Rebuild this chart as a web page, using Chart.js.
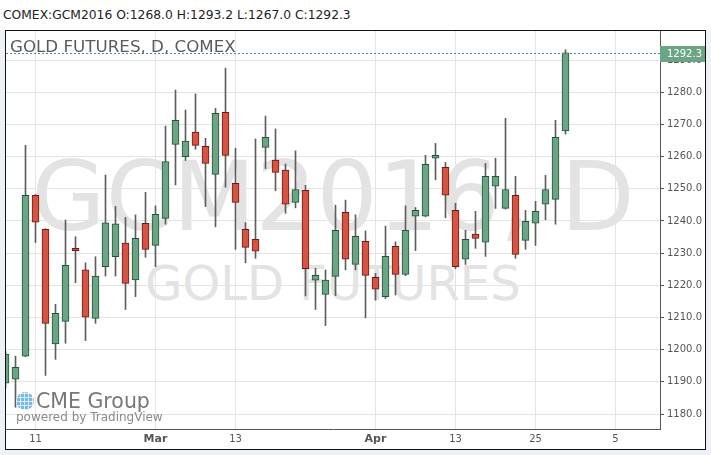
<!DOCTYPE html>
<html>
<head>
<meta charset="utf-8">
<script src="https://cdn.jsdelivr.net/npm/chart.js@4.4.1/dist/chart.umd.min.js"></script>
<style>
  html, body { margin: 0; padding: 0; }
  body { width: 711px; height: 455px; background: #eef2f7; position: relative; overflow: hidden; font-family: 'DejaVu Sans', sans-serif; }
  #head { position: absolute; left: 0; top: 0; width: 711px; height: 30px; background: #fff; }
  #quote { position: absolute; left: 3px; top: 9px; font-size: 12.3px; line-height: 1; color: #222; white-space: nowrap; }
  #frame { position: absolute; left: 5px; top: 30px; width: 701px; height: 420px; box-sizing: border-box; border: 1px solid #111; background: #fff; overflow: hidden; }
  .wm { position: absolute; left: 0; width: 654px; text-align: center; line-height: 1; color: #e3e3e3; white-space: nowrap; }
  #wm1 { top: 118px; font-size: 96px; }
  #wm2 { top: 228px; font-size: 48px; }
  #title { position: absolute; left: 4px; top: 7px; font-size: 16.7px; line-height: 1; color: #5a5a5a; white-space: nowrap; }
  #globe { position: absolute; left: 10px; top: 361px; width: 18px; height: 18px; border-radius: 50%;
           background: repeating-linear-gradient(90deg, rgba(255,255,255,0.7) 0 1px, transparent 1px 4px),
                       repeating-linear-gradient(0deg, rgba(255,255,255,0.7) 0 1px, transparent 1px 4px), #78b9e6; }
  #cme { position: absolute; left: 30px; top: 360px; font-size: 20.5px; line-height: 1; color: #777; white-space: nowrap; }
  #pwr { position: absolute; left: 10px; top: 380px; font-size: 12px; line-height: 1; color: #8a8a8a; white-space: nowrap; }
  canvas { position: absolute; left: 0; top: 0; }
</style>
</head>
<body>
<div id="head"><span id="quote"></span></div>
<div id="frame">
  <div class="wm" id="wm1">GCM2016, D</div>
  <div class="wm" id="wm2">GOLD FUTURES</div>
  <canvas id="chart" width="699" height="418"></canvas>
  <div id="title">GOLD FUTURES, D, COMEX</div>
  <div id="globe"></div>
  <div id="cme">CME Group</div>
  <div id="pwr">powered by TradingView</div>
</div>
<script>
// daily candles, oldest first
var opens = [1189.6, 1190.8, 1198.0, 1248.0, 1237.4, 1201.8, 1208.8, 1231.5, 1224.8, 1209.7,
             1225.8, 1228.9, 1233.1, 1221.7, 1239.3, 1232.4, 1240.8, 1263.8, 1260.0, 1267.6,
             1263.2, 1254.5, 1273.8, 1251.7, 1237.4, 1234.3, 1262.9, 1258.9, 1255.8, 1245.8,
             1249.5, 1221.6, 1217.2, 1222.8, 1242.7, 1226.5, 1233.7, 1222.5, 1216.5, 1232.1,
             1223.4, 1241.5, 1241.5, 1259.5, 1256.7, 1243.3, 1228.1, 1235.9, 1233.4, 1250.8,
             1243.9, 1248.0, 1234.0, 1239.3, 1245.2, 1246.7, 1268.0];
var highs = [1199.5, 1198.0, 1263.5, 1248.2, 1237.6, 1214.1, 1240.3, 1235.1, 1227.0, 1228.9,
             1254.3, 1244.5, 1241.1, 1241.9, 1248.9, 1244.7, 1269.5, 1280.7, 1274.5, 1279.5,
             1265.7, 1275.0, 1287.5, 1262.6, 1239.5, 1265.5, 1272.6, 1268.6, 1257.7, 1261.8,
             1251.1, 1225.3, 1224.8, 1244.9, 1246.5, 1241.9, 1236.9, 1223.7, 1238.4, 1233.5,
             1244.7, 1244.2, 1260.4, 1264.1, 1258.2, 1245.5, 1237.1, 1243.0, 1257.9, 1259.5,
             1271.9, 1253.9, 1243.3, 1246.1, 1254.2, 1271.3, 1293.2];
var lows = [1188.0, 1182.1, 1197.8, 1233.3, 1192.0, 1197.0, 1202.0, 1220.8, 1202.8, 1208.2,
            1222.9, 1222.9, 1212.5, 1216.5, 1228.7, 1225.8, 1239.0, 1251.2, 1258.8, 1262.3,
            1244.5, 1238.2, 1250.5, 1231.2, 1227.0, 1228.4, 1256.3, 1249.4, 1242.4, 1244.1,
            1216.7, 1212.5, 1207.5, 1216.8, 1224.8, 1224.8, 1209.9, 1215.4, 1215.9, 1217.0,
            1223.0, 1230.8, 1241.3, 1252.8, 1241.0, 1225.2, 1226.5, 1231.5, 1229.0, 1243.9,
            1243.7, 1228.4, 1231.2, 1232.4, 1240.4, 1239.0, 1267.0];
var closes = [1198.6, 1194.5, 1248.0, 1239.6, 1208.2, 1211.3, 1226.2, 1230.8, 1210.1, 1222.9,
              1239.4, 1239.1, 1220.6, 1234.6, 1231.2, 1242.1, 1258.5, 1271.3, 1264.8, 1263.5,
              1257.9, 1273.5, 1260.4, 1245.8, 1231.8, 1230.6, 1266.0, 1255.1, 1245.2, 1249.8,
              1225.2, 1223.1, 1221.6, 1237.1, 1228.1, 1235.2, 1223.1, 1218.8, 1229.0, 1223.4,
              1237.1, 1243.3, 1257.6, 1260.4, 1248.0, 1225.8, 1234.3, 1234.6, 1253.9, 1253.9,
              1249.8, 1229.6, 1239.9, 1243.0, 1249.8, 1266.0, 1292.3];

// date labels on the time axis (bar index -> text)
var tickIndex = [3, 15, 23, 37, 45, 53, 61];
var tickText = ['11', 'Mar', '13', 'Apr', '13', '25', '5'];
var monthTicks = ['Mar', 'Apr'];

var last = closes.length - 1;
document.getElementById('quote').textContent =
  'COMEX:GCM2016 O:' + opens[last].toFixed(1) + ' H:' + highs[last].toFixed(1) +
  ' L:' + lows[last].toFixed(1) + ' C:' + closes[last].toFixed(1);

var up = opens.map(function(o, i) { return closes[i] >= o; });
var bodies = opens.map(function(o, i) { return { x: i, y: [o, closes[i]] }; });
var wicks = lows.map(function(l, i) { return { x: i, y: [l, highs[i]] }; });

var lastPrice = {
  id: 'lastPrice',
  afterDatasetsDraw: function(chart) {
    var ctx = chart.ctx, a = chart.chartArea;
    var y = Math.round(chart.scales.y.getPixelForValue(closes[last])) + 0.5;
    ctx.save();
    ctx.strokeStyle = '#4f9270';
    ctx.lineWidth = 1;
    ctx.setLineDash([2, 2]);
    ctx.beginPath();
    ctx.moveTo(a.left, y);
    ctx.lineTo(a.right, y);
    ctx.stroke();
    ctx.setLineDash([]);
    ctx.fillStyle = '#6ba583';
    ctx.fillRect(a.right, y - 7.5, 45, 16);
    ctx.fillStyle = '#fff';
    ctx.font = '10px "DejaVu Sans"';
    ctx.textBaseline = 'middle';
    ctx.fillText(closes[last].toFixed(1), a.right + 7, y + 1);
    ctx.restore();
  }
};

Chart.defaults.font.family = '"DejaVu Sans", sans-serif';

new Chart(document.getElementById('chart'), {
  type: 'bar',
  data: {
    datasets: [{
      data: bodies,
      backgroundColor: up.map(function(u) { return u ? '#6ba583' : '#d75442'; }),
      borderColor: up.map(function(u) { return u ? '#225437' : '#6b1a14'; }),
      borderWidth: 1,
      borderSkipped: false,
      barThickness: 7,
      grouped: false,
      clip: 0,
      order: 0
    }, {
      data: wicks,
      backgroundColor: '#5e5e5e',
      borderWidth: 0,
      barThickness: 1,
      grouped: false,
      clip: 0,
      order: 1
    }]
  },
  options: {
    responsive: false,
    animation: false,
    layout: { padding: 0 },
    plugins: { legend: { display: false }, tooltip: { enabled: false } },
    scales: {
      x: {
        type: 'linear',
        offset: false,
        min: 0.05,
        max: 65.45,
        afterBuildTicks: function(s) {
          s.ticks = tickIndex.map(function(v) { return { value: v }; });
        },
        afterFit: function(s) { s.height = 20; s.paddingLeft = 0; s.paddingRight = 0; },
        ticks: {
          autoSkip: false,
          maxRotation: 0,
          padding: 4,
          color: '#555',
          font: function(c) {
            var m = monthTicks.indexOf(tickText[c.index]) >= 0;
            return { size: m ? 11 : 10, weight: m ? 'bold' : 'normal' };
          },
          callback: function(v, i) { return tickText[i]; }
        },
        grid: { color: '#e4e4e4', drawTicks: false, offset: false },
        border: { color: '#555' }
      },
      y: {
        position: 'right',
        min: 1175.35,
        max: 1299.05,
        afterFit: function(s) { s.width = 45; s.paddingTop = 0; s.paddingBottom = 0; },
        ticks: {
          stepSize: 10,
          includeBounds: false,
          padding: 3,
          color: '#555',
          font: { size: 10 },
          callback: function(v) { return v.toFixed(1); }
        },
        grid: { color: '#e4e4e4', tickColor: '#555', tickLength: 4 },
        border: { color: '#555' }
      }
    }
  },
  plugins: [lastPrice]
});
</script>
</body>
</html>
